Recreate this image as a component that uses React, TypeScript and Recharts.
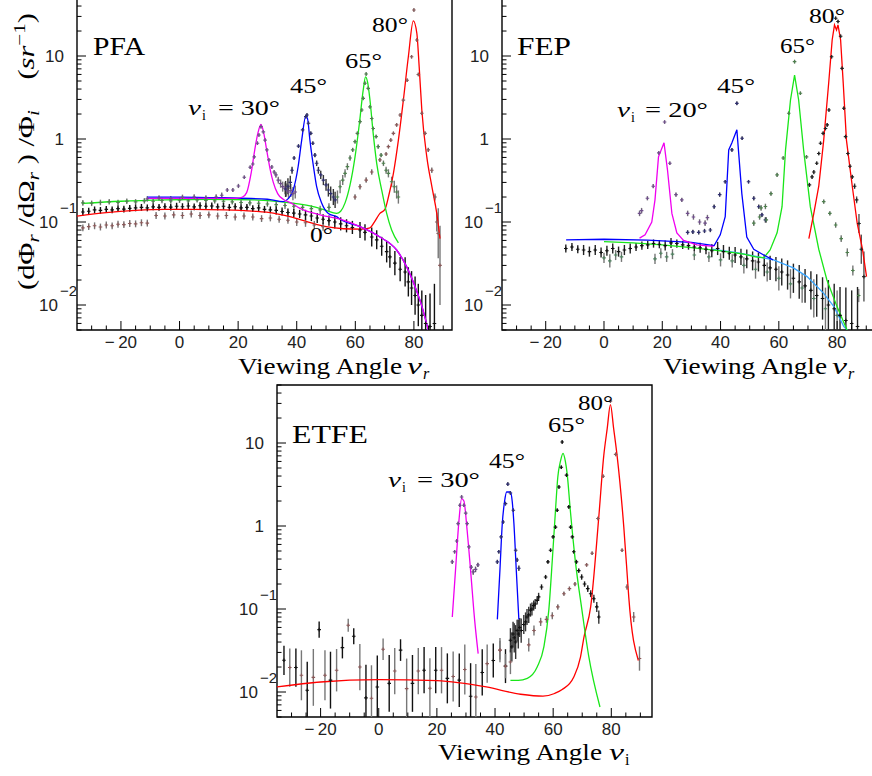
import React from 'react';
import { ComposedChart, XAxis, YAxis, Line, Scatter, ErrorBar, ReferenceArea } from 'recharts';

const SANS = "'Liberation Sans', Arial, Helvetica, sans-serif";
const SERIF = "'Liberation Serif', 'Times New Roman', Times, serif";

const X_TICKS = [-30, -25, -20, -15, -10, -5, 0, 5, 10, 15, 20, 25, 30, 35, 40, 45, 50, 55, 60, 65, 70, 75, 80, 85, 90];
const X_LABELS = [-20, 0, 20, 40, 60, 80];
const Y_TICKS = [0.005, 0.006, 0.007, 0.008, 0.009, 0.01, 0.02, 0.03, 0.04, 0.05, 0.06, 0.07, 0.08, 0.09, 0.1, 0.2, 0.3, 0.4, 0.5, 0.6, 0.7, 0.8, 0.9, 1, 2, 3, 4, 5, 6, 7, 8, 9, 10, 20, 30, 40, 50];
const Y_LABELS = [0.01, 0.1, 1, 10];
const Y_MIN = 0.005;
const Y_MAX = 50;

// ---------------- PFA ----------------
const P1_FIT80 = [[-35,0.118],[-25,0.13],[-15,0.138],[-5,0.142],[5,0.142],[15,0.14],[25,0.135],[32,0.128],[38,0.115],[44,0.1],[50,0.088],[56,0.083],[62,0.082],[65,0.085],[66.5,0.1],[68.4,0.127],[70.1,0.142],[71.3,0.2],[73,0.386],[74.7,0.97],[76.4,2.94],[78.1,9.8],[79.8,26.5],[81,18.8],[81.8,7.4],[82.7,2.24],[84.4,0.61],[86.1,0.27],[87.8,0.127],[88.9,0.063]];
const P1_FIT65 = [[-33,0.168],[-20,0.178],[-5,0.185],[10,0.188],[25,0.185],[35,0.175],[45,0.155],[50,0.138],[53.6,0.127],[55,0.135],[56.5,0.17],[58.2,0.28],[59.9,0.61],[61.4,1.55],[62.7,3.9],[63.5,5.6],[64.2,4.8],[65,2.95],[66.1,1.17],[67.3,0.51],[69,0.243],[70.7,0.127],[72.4,0.08],[74.7,0.056]];
const P1_FIT45 = [[-11,0.2],[0,0.2],[15,0.196],[30,0.188],[35.4,0.176],[37,0.19],[38.8,0.243],[40.5,0.47],[41.7,0.97],[43.1,1.89],[43.7,1.75],[44.5,0.97],[45.7,0.47],[46.8,0.266],[48.5,0.17],[50.8,0.127],[53.6,0.116],[54.8,0.108],[61.6,0.088],[68.4,0.066],[74.1,0.046],[77.5,0.029],[80.4,0.0166],[82.7,0.0097],[84.9,0.005]];
const P1_FIT30 = [[-11,0.193],[5,0.193],[19.5,0.193],[21.5,0.2],[22.9,0.226],[24.5,0.4],[25.7,0.75],[26.8,1.2],[27.8,1.5],[28.7,1.2],[29.7,0.75],[31,0.42],[32,0.3],[33.5,0.22],[35.4,0.188],[38,0.17],[41.1,0.146],[48,0.122],[54.8,0.108],[61.6,0.088],[68.4,0.066],[74.1,0.046],[77.5,0.029],[80.4,0.0166],[82.7,0.0097],[84.9,0.005]];

const P1_D0 = [[-33,0.132,1.12],[-31,0.135,1.1],[-29,0.14,1.1],[-27,0.138,1.1],[-25,0.142,1.1],[-23,0.14,1.1],[-21,0.145,1.1],[-19,0.143,1.1],[-17,0.146,1.1],[-15,0.148,1.1],[-13,0.15,1.1],[-11,0.148,1.1],[-9,0.152,1.1],[-7,0.15,1.1],[-5,0.153,1.1],[-3,0.151,1.1],[-1,0.155,1.1],[1,0.153,1.1],[3,0.156,1.1],[5,0.152,1.1],[7,0.157,1.1],[9,0.155,1.1],[11,0.156,1.1],[13,0.152,1.1],[15,0.155,1.1],[17,0.15,1.1],[19,0.153,1.1],[21,0.148,1.1],[23,0.15,1.1],[25,0.145,1.1],[27,0.148,1.1],[29,0.142,1.1],[31,0.14,1.1],[33,0.138,1.12],[35,0.134,1.12],[37,0.13,1.12],[39,0.128,1.12],[41,0.125,1.12],[43,0.122,1.15],[45,0.118,1.15],[47,0.112,1.15],[49,0.108,1.15],[51,0.104,1.15],[53,0.1,1.2],[55,0.095,1.2],[57,0.09,1.2],[59,0.086,1.2],[61.6,0.08,1.25],[63.3,0.075,1.25],[65.6,0.066,1.3],[67.3,0.061,1.3],[69,0.051,1.3],[70.7,0.044,1.35],[71.8,0.038,1.35],[73.5,0.032,1.4],[75.3,0.027,1.4],[77,0.025,1.5],[78.1,0.019,1.5],[79.2,0.016,1.6],[80.4,0.013,1.7],[81.5,0.01,1.8],[82.7,0.0075,2],[84,0.006,2.2],[85.5,0.0055,2.5],[87,0.006,3]];
const P1_D30 = [[-11,0.19,1.08],[-7,0.195,1.08],[-3,0.19,1.08],[1,0.198,1.08],[5,0.2,1.08],[9,0.195,1.08],[12.5,0.2,1.08],[14.4,0.21,1.08],[16.3,0.243,1.06],[18.2,0.243,1.06],[20.1,0.272,1.06],[22.1,0.346,1.05],[24.1,0.456,1.05],[25,0.5,1.05],[25.5,0.61,1.05],[26.6,0.89,1.05],[27.1,1.12,1.05],[27.8,1.41,1.05],[28.6,1.22,1.05],[29.2,0.97,1.05],[29.8,0.74,1.05],[30.5,0.56,1.05],[31.5,0.46,1.06],[32.3,0.4,1.06],[32.9,0.37,1.08],[33.7,0.32,1.1],[34.5,0.29,1.12],[35.2,0.267,1.15],[36,0.255,1.18],[36.5,0.243,1.2],[37.2,0.23,1.2],[38,0.24,1.2],[38.7,0.22,1.2],[39.5,0.23,1.2]];
const P1_D45 = [[36.2,0.25,1.25],[37,0.27,1.25],[37.8,0.3,1.2],[38.4,0.42,1.1],[39.1,0.59,1.05],[40.6,0.82,1.05],[42,1.29,1.05],[43.1,1.86,1.05],[43.5,1.95,1.05],[44,1.55,1.05],[44.8,1.17,1.05],[45.5,0.89,1.05],[46.2,0.64,1.06],[46.8,0.51,1.08],[47.4,0.42,1.1],[48.2,0.37,1.12],[49.1,0.32,1.15],[50,0.28,1.18],[50.8,0.243,1.2],[51.6,0.22,1.22],[52.5,0.2,1.25],[53.1,0.185,1.25]];
const P1_D65 = [[-33,0.17,1.08],[-30,0.168,1.08],[-27,0.172,1.08],[-24,0.175,1.08],[-21,0.172,1.08],[-18,0.178,1.08],[-15,0.175,1.08],[-12,0.18,1.08],[-9,0.178,1.08],[-6,0.182,1.08],[-3,0.18,1.08],[0,0.183,1.08],[3,0.18,1.08],[6,0.185,1.08],[9,0.182,1.08],[12,0.18,1.08],[15,0.178,1.08],[18,0.175,1.08],[21,0.172,1.08],[24,0.17,1.08],[27,0.168,1.08],[30,0.165,1.08],[33,0.162,1.08],[36,0.158,1.1],[39,0.155,1.1],[42,0.15,1.1],[45,0.145,1.1],[48,0.14,1.12],[51,0.15,1.12],[53.9,0.2,1.2],[54.8,0.266,1.2],[55.7,0.32,1.15],[56.5,0.386,1.12],[57.3,0.465,1.1],[58.2,0.59,1.08],[59.1,0.74,1.06],[59.9,0.93,1.05],[60.7,1.17,1.05],[61.6,1.62,1.05],[62.2,2.24,1.05],[62.7,3.09,1.05],[63.3,4.69,1.05],[63.7,6.07,1.05],[64.4,4.08,1.05],[65,2.44,1.05],[65.6,1.77,1.05],[66.1,1.34,1.05],[67.1,1.07,1.05],[67.8,0.81,1.06],[68.8,0.64,1.06],[69.6,0.51,1.08],[70.5,0.42,1.1],[71.3,0.386,1.12],[72.4,0.306,1.15],[73.3,0.266,1.18],[74.1,0.23,1.2],[74.7,0.2,1.2]];
const P1_D80 = [[-33,0.085,1.1],[-31,0.088,1.1],[-29,0.09,1.1],[-27,0.087,1.1],[-25,0.092,1.1],[-23,0.09,1.1],[-21,0.094,1.1],[-19,0.093,1.1],[-17,0.096,1.1],[-15,0.095,1.1],[-13,0.098,1.1],[-11,0.097,1.1],[-8,0.12,1.1],[-5,0.118,1.1],[-2,0.122,1.1],[1,0.12,1.1],[4,0.125,1.1],[7,0.12,1.1],[10,0.122,1.1],[13,0.118,1.1],[16,0.12,1.1],[19,0.115,1.1],[22,0.118,1.1],[25,0.115,1.1],[28,0.11,1.1],[31,0.112,1.1],[34,0.108,1.1],[37,0.105,1.1],[40,0.1,1.12],[43,0.098,1.12],[46,0.092,1.12],[49,0.088,1.12],[59.9,0.2,1.08],[61.6,0.266,1.08],[63.7,0.32,1.08],[65.6,0.4,1.08],[68.4,0.56,1.06],[70.5,0.66,1.05],[71.3,0.81,1.05],[72.1,0.97,1.05],[73,1.17,1.05],[74.1,1.48,1.05],[75.3,1.95,1.05],[76.4,2.94,1.05],[77.7,5.1,1.05],[79.2,9.8,1.05],[80,35.8,1.05],[81,15.6,1.05],[81.5,6,1.05],[82.7,2.04,1.05],[83.8,1.17,1.05],[84.9,0.74,1.06],[86.1,0.42,1.08],[87.2,0.2,1.1],[87.8,0.1,1.3],[88.3,0.073,2],[88.9,0.03,3]];

// ---------------- FEP ----------------
const P2_FIT_BLUE = [[-13,0.061],[0,0.062],[15,0.0605],[30,0.057],[37.8,0.052],[39.9,0.07],[41.6,0.116],[42.8,0.74],[43.9,0.9],[45.6,1.29],[47.3,0.22],[49,0.066],[51.4,0.047],[54.8,0.04],[58,0.035]];
const P2_FIT_CYAN = [[37,0.047],[45,0.043],[50,0.04],[58.2,0.035],[65,0.028],[69.7,0.022],[75.4,0.0138],[78.9,0.0096],[82.3,0.0055],[83.5,0.005]];
const P2_FIT_MAGENTA = [[12.2,0.064],[14.1,0.07],[16.4,0.1],[17.5,0.185],[18.7,0.61],[20.6,0.9],[21.8,0.42],[23.3,0.127],[25,0.074],[27.3,0.06],[31.9,0.053],[37.6,0.051]];
const P2_FIT_GREEN = [[0,0.058],[10,0.056],[20,0.053],[30,0.049],[40,0.045],[48,0.041],[52,0.038],[54.8,0.037],[57,0.046],[59.4,0.074],[61.1,0.153],[62.3,0.74],[64,2.95],[65.4,5.9],[66.8,2.95],[68.5,0.74],[70.8,0.153],[73.7,0.047],[76.5,0.02],[79.9,0.0097],[83.4,0.005]];
const P2_FIT_RED = [[70.3,0.063],[72,0.127],[73.7,0.27],[75.4,0.97],[77.1,4.7],[78.3,15.6],[79.1,23.7],[79.8,20.6],[80.3,23.7],[81.2,15.6],[82.1,4.7],[83.2,0.97],[85.2,0.27],[86.9,0.096],[88.7,0.047],[90.1,0.022]];

const P2_D0 = [[-13.1,0.048,1.12],[-11,0.05,1.12],[-9,0.047,1.12],[-7,0.046,1.15],[-5,0.044,1.15],[-3,0.046,1.15],[-1,0.043,1.15],[1,0.045,1.15],[3,0.048,1.15],[5,0.044,1.15],[7,0.046,1.15],[9,0.048,1.15],[11,0.05,1.12],[13,0.052,1.12],[15,0.053,1.12],[17,0.055,1.12],[19,0.054,1.12],[21,0.052,1.15],[23,0.056,1.15],[25,0.055,1.12],[27,0.053,1.12],[29,0.052,1.12],[31,0.05,1.12],[33,0.049,1.15],[35,0.047,1.15],[37,0.045,1.2],[39,0.048,1.2],[41,0.044,1.2],[43,0.042,1.2],[45,0.04,1.25],[47,0.038,1.25],[49,0.036,1.3],[51,0.034,1.3],[53,0.033,1.3],[55,0.03,1.35],[57,0.028,1.4],[59,0.027,1.4],[61,0.025,1.45],[63,0.023,1.5],[65,0.021,1.5],[67,0.019,1.6],[69,0.017,1.6],[71,0.015,1.7],[73,0.013,1.8],[75,0.012,1.8],[77,0.01,2],[79,0.009,2],[81,0.0075,2.2],[83,0.0065,2.5],[85,0.006,2.5],[87,0.0055,3]];
const P2_DLOW = [[0,0.037,1.15],[2,0.034,1.2],[4,0.04,1.15],[6,0.038,1.15],[17.5,0.036,1.15],[19.5,0.042,1.15],[21.5,0.038,1.15],[23.5,0.041,1.15],[31,0.04,1.15],[36,0.038,1.15],[40,0.035,1.2],[44,0.034,1.2],[48,0.03,1.25],[52,0.027,1.3],[56,0.025,1.3],[60,0.021,1.4],[64,0.018,1.5],[68,0.016,1.5],[72,0.012,1.7],[76,0.009,1.8],[80,0.0075,2]];
const P2_D20 = [[12.2,0.127,1.08],[12.9,0.137,1.08],[14.9,0.193,1.06],[16.9,0.27,1.06],[18.8,0.68,1.05],[20.8,1.6,1.05],[22.6,0.51,1.05],[24.7,0.214,1.06],[26.7,0.185,1.06],[28.7,0.127,1.08],[30.7,0.115,1.08],[32.8,0.1,1.08],[34.7,0.097,1.08],[35.5,0.113,1.08]];
const P2_D45 = [[28.7,0.075,1.06],[30.5,0.076,1.06],[32.5,0.075,1.06],[34.5,0.078,1.06],[36.5,0.08,1.06],[37.8,0.153,1.06],[39.7,0.214,1.06],[41.6,0.306,1.05],[43.9,0.74,1.05],[45.6,2.69,1.05],[47.4,1.02,1.05],[49.6,0.306,1.05],[51.4,0.193,1.06],[53.1,0.153,1.06],[54.2,0.122,1.06],[55.4,0.106,1.08]];
const P2_D65 = [[51.4,0.097,1.08],[53.4,0.115,1.08],[53.9,0.148,1.08],[55.4,0.154,1.08],[55.7,0.106,1.08],[57.3,0.22,1.06],[59.4,0.37,1.06],[61.5,0.59,1.05],[63.4,2.04,1.05],[65.4,8.55,1.05],[67.4,3.56,1.05],[69.5,0.61,1.05],[75.4,0.176,1.06],[77.5,0.127,1.06],[79.5,0.092,1.08],[81.4,0.063,1.1],[83.5,0.043,1.12],[85.4,0.026,1.15],[87.4,0.013,1.2]];
const P2_D80 = [[70.5,0.28,1.06],[71.4,0.35,1.06],[72,0.4,1.06],[73,0.51,1.05],[73.7,0.67,1.05],[74.3,0.89,1.05],[75.2,1.17,1.05],[76,1.34,1.05],[76.6,1.48,1.05],[77.2,2.24,1.05],[78.1,9.8,1.05],[79.5,28.5,1.05],[80.3,26,1.05],[81.2,17.3,1.05],[81.7,7.1,1.05],[82.3,2.35,1.05],[82.9,1.07,1.05],[83.7,0.67,1.05],[84.4,0.47,1.06],[85.2,0.35,1.06],[86,0.27,1.08],[86.7,0.185,1.1],[87.5,0.096,1.3],[88.3,0.047,1.5],[89.2,0.022,2]];

// ---------------- ETFE ----------------
const P3_FIT_RED = [[-35,0.0115],[-20,0.0132],[0,0.0141],[20,0.0137],[37,0.0115],[48.8,0.0094],[56.5,0.0089],[60.5,0.0096],[63.1,0.0107],[67.1,0.0152],[69.4,0.0264],[70.6,0.046],[72.9,0.106],[75.7,1.29],[77.4,7],[78.6,15],[79.7,29],[80.8,15],[82,7],[84.3,0.97],[85.5,0.25],[86,0.14],[89.3,0.024]];
const P3_FIT_GREEN = [[45.3,0.0138],[48,0.0138],[51.1,0.0146],[54.5,0.02],[56.8,0.035],[58.5,0.097],[59.7,0.386],[60.8,1.55],[61.6,3.9],[62.5,6],[63.4,7.5],[64.2,6],[64.8,4.3],[65.9,1.55],[67.6,0.386],[69.9,0.097],[72.2,0.0275],[76.1,0.0066]];
const P3_FIT_BLUE = [[40.8,0.075],[41.7,0.3],[42.5,1.07],[43.3,2.0],[44,2.57],[45.3,2.57],[45.9,2.0],[46.5,1.07],[47.3,0.3],[48.2,0.075]];
const P3_FIT_MAGENTA = [[25.3,0.08],[26.4,0.29],[27.6,1.17],[28.5,2.14],[29.3,2.0],[30.4,0.89],[31.6,0.29],[33,0.073],[34.2,0.029]];

const P3_D0 = [[-32.6,0.0241,1.5],[-30.6,0.0197,1.7],[-28.5,0.0197,1.7],[-26.6,0.0159,2],[-24.6,0.0105,2.2],[-22.5,0.015,2.2],[-20.5,0.0565,1.25],[-18.5,0.0159,2],[-16.6,0.0139,2.2],[-14.5,0.0183,1.8],[-12.5,0.0343,1.35],[-10.5,0.0637,1.2],[-8.6,0.0469,1.25],[-6.5,0.02,1.9],[-4.4,0.0085,2.5],[-2.5,0.0084,2.5],[-0.5,0.0115,2.4],[1.5,0.0327,1.35],[3.6,0.0127,2.2],[5.5,0.0179,1.9],[7.5,0.032,1.35],[9.6,0.011,2.3],[11.6,0.0127,2.2],[13.6,0.0179,1.9],[15.6,0.0183,1.9],[17.6,0.0111,2.3],[19.6,0.0183,1.9],[21.6,0.0183,1.9],[23.6,0.0146,2],[25.6,0.0154,2],[27.7,0.0139,2.1],[29.6,0.0187,2],[31.6,0.0089,2.5],[33.4,0.0087,2.5],[35.6,0.0172,1.9],[37.3,0.022,1.7],[39.4,0.024,1.6],[41.7,0.032,1.4],[43.6,0.0205,1.6]];
const P3_D30 = [[25.3,0.37,1.06],[26.1,0.49,1.05],[26.8,0.66,1.05],[27.3,1.07,1.05],[27.9,1.78,1.05],[28.5,2.24,1.05],[29.3,1.78,1.05],[29.9,1.43,1.05],[30.4,1.07,1.05],[31,0.56,1.06],[31.8,0.32,1.06],[32.5,0.28,1.08],[33.3,0.3,1.08],[34.1,0.34,1.06]];
const P3_D45 = [[40.8,0.37,1.06],[41.3,0.49,1.05],[42.1,0.74,1.05],[42.8,1.12,1.05],[43.6,1.86,1.05],[44.4,3.2,1.05],[45.3,2.5,1.05],[46.3,1.55,1.05],[47.1,0.51,1.05],[47.6,0.39,1.06],[48.2,0.31,1.08]];
const P3_D65 = [[45.3,0.042,1.4],[45.8,0.035,1.5],[46.2,0.05,1.4],[46.6,0.045,1.5],[47.1,0.04,1.6],[47.6,0.055,1.35],[48,0.05,1.5],[48.5,0.06,1.3],[49,0.055,1.4],[49.9,0.065,1.3],[50.5,0.07,1.3],[51,0.08,1.25],[51.6,0.085,1.25],[52.2,0.097,1.2],[52.7,0.1,1.2],[53.3,0.11,1.15],[53.8,0.115,1.15],[54.5,0.127,1.12],[55,0.14,1.12],[56,0.184,1.08],[57.4,0.243,1.06],[58.2,0.37,1.05],[59.1,0.51,1.05],[60,0.74,1.05],[60.8,0.97,1.05],[61.4,1.55,1.05],[62,2.95,1.05],[62.8,5.1,1.05],[63.1,10.3,1.05],[64.6,4.1,1.05],[65.4,1.7,1.05],[66,0.97,1.05],[66.6,0.74,1.05],[67.1,0.49,1.05],[68,0.37,1.06],[68.8,0.29,1.06],[69.8,0.243,1.08],[70.8,0.2,1.08],[71.9,0.176,1.1],[72.9,0.153,1.1],[74,0.133,1.12],[75,0.106,1.15],[75.7,0.08,1.2]];
const P3_D80 = [[41.7,0.032,1.3],[43.6,0.0205,1.4],[45.3,0.023,1.4],[51.6,0.037,1.2],[53.4,0.055,1.15],[55.7,0.07,1.12],[57.7,0.075,1.1],[59.7,0.083,1.1],[61.6,0.106,1.08],[63.7,0.153,1.06],[65.6,0.176,1.06],[67.5,0.2,1.06],[71.5,0.34,1.05],[73.4,0.47,1.05],[75.4,1.23,1.05],[77.2,3.97,1.05],[79.7,32,1.05],[81.5,7.3,1.05],[83.7,0.51,1.05],[85.4,0.184,1.08],[87.7,0.08,1.15],[89.7,0.0253,1.4]];

const RED = '#ff0000';
const GREEN = '#19e619';
const BLUE = '#0000ff';
const MAGENTA = '#f000f0';
const CYAN = '#3aa6ff';

const toLine = (a: number[][]) => a.map(([x, y]) => ({ x, y }));
// error bars are kept inside the frame (the original plot clips them)
const toPts = (a: number[][]) =>
  a.filter(([, y]) => y > Y_MIN && y < Y_MAX).map(([x, y, f]) => {
    const lo = Math.max(y / f, Y_MIN * 1.001);
    const hi = Math.min(y * f, Y_MAX);
    return { x, y, err: [y - lo, hi - y] };
  });

function XTick(p: any) {
  const { x, y, payload } = p;
  const v = payload.value;
  const major = X_LABELS.indexOf(v) >= 0;
  return (
    <g>
      <line x1={x} x2={x} y1={y} y2={y - (major ? 9 : 4.5)} stroke="#000" strokeWidth={1} />
      {major ? (
        <text x={x} y={y + 18} textAnchor="middle" fontFamily={SANS} fontSize={17} fill="#222">
          {v < 0 ? '\u2212\u2009' + Math.abs(v) : String(v)}
        </text>
      ) : null}
    </g>
  );
}

function YTick(p: any) {
  const { x, y, payload } = p;
  const v = payload.value;
  const major = Y_LABELS.some((m) => Math.abs(m - v) < 1e-9);
  const tick = <line x1={x} x2={x + (major ? 9 : 4.5)} y1={y} y2={y} stroke="#000" strokeWidth={1} />;
  if (!major) return <g>{tick}</g>;
  const e = Math.round(Math.log10(v));
  return (
    <g>
      {tick}
      {e >= 0 ? (
        <text x={x - 13} y={y + 6} textAnchor="end" fontFamily={SANS} fontSize={17} fill="#222">{String(Math.pow(10, e))}</text>
      ) : (
        <g>
          <text x={x - 19} y={y + 5.5} textAnchor="end" fontFamily={SANS} fontSize={17} fill="#222">10</text>
          <text x={x} y={y - 9.5} textAnchor="end" fontFamily={SANS} fontSize={15} fill="#222">{'\u2212' + Math.abs(e)}</text>
        </g>
      )}
    </g>
  );
}

const cross = (c: string) => (p: any) => (
  <path d={`M${p.cx - 1.8},${p.cy}h3.6M${p.cx},${p.cy - 1.8}v3.6`} stroke={c} strokeWidth={1.1} fill="none" />
);

type Fit = { d: number[][]; c: string };
type PSet = { d: number[][]; m: string; e: string };

function Panel(props: { left: number; top: number; width: number; yw: number; mr: number; xMax: number; fits: Fit[]; sets: PSet[]; curve: any }) {
  const { left, top, width, yw, mr, xMax, fits, sets, curve } = props;
  return (
    <div style={{ position: 'absolute', left, top }}>
      <ComposedChart width={width} height={382} margin={{ top: 10, right: mr, bottom: 0, left: 0 }}>
        <XAxis type="number" dataKey="x" domain={[-35, xMax]} allowDataOverflow ticks={X_TICKS} interval={0}
          tick={XTick} tickSize={0} tickMargin={0} tickLine={false} axisLine={false} height={40} />
        <YAxis type="number" dataKey="y" scale="log" domain={[Y_MIN, Y_MAX]} allowDataOverflow ticks={Y_TICKS} interval={0}
          tick={YTick} tickSize={0} tickMargin={0} tickLine={false} axisLine={false} width={yw} />
        {sets.map((s, i) => (
          <Scatter key={'s' + i} data={toPts(s.d)} fill={s.m} isAnimationActive={false} shape={cross(s.m)}>
            <ErrorBar dataKey="err" direction="y" width={0} stroke={s.e} strokeWidth={1.4} isAnimationActive={false} />
          </Scatter>
        ))}
        {fits.map((f, i) => (
          <Line key={'l' + i} data={toLine(f.d)} dataKey="y" type={curve} stroke={f.c} strokeWidth={1.3} dot={false}
            activeDot={false} isAnimationActive={false} />
        ))}
        <ReferenceArea x1={-35} x2={xMax} y1={Y_MIN} y2={Y_MAX} fill="none" stroke="#000" strokeWidth={1.4} ifOverflow="visible" />
      </ComposedChart>
    </div>
  );
}

function T(props: { x: number; y: number; size?: number; len?: number; italic?: boolean; children: any }) {
  const { x, y, size = 22, len, italic, children } = props;
  return (
    <text x={x} y={y} fontFamily={SERIF} fontSize={size} fontStyle={italic ? 'italic' : 'normal'} fill="#000"
      textLength={len} lengthAdjust={len ? 'spacingAndGlyphs' : undefined}>
      {children}
    </text>
  );
}

export default function App() {
  const P3_D0_A = P3_D0.filter((_, i) => i % 2 === 0);
  const P3_D0_B = P3_D0.filter((_, i) => i % 2 === 1);
  return (
    <div style={{ position: 'absolute', left: 0, top: 0, width: 872, height: 776, overflow: 'hidden', background: '#fff' }}>
      <Panel left={0} top={-12} width={460} yw={77} mr={8} xMax={93} curve="monotone"
        sets={[
          { d: P1_D80, m: '#8a5a5a', e: '#777' },
          { d: P1_D65, m: '#4f7f4f', e: '#777' },
          { d: P1_D0, m: '#111', e: '#111' },
          { d: P1_D30, m: '#6f4f8a', e: '#777' },
          { d: P1_D45, m: '#2f2f6f', e: '#333' },
        ]}
        fits={[
          { d: P1_FIT80, c: RED },
          { d: P1_FIT65, c: GREEN },
          { d: P1_FIT45, c: BLUE },
          { d: P1_FIT30, c: MAGENTA },
        ]} />
      <Panel left={440} top={-12} width={435} yw={62} mr={0} xMax={93} curve="linear"
        sets={[
          { d: P2_DLOW, m: '#4f7f5f', e: '#777' },
          { d: P2_D0, m: '#111', e: '#222' },
          { d: P2_D20, m: '#6f4f8a', e: '#777' },
          { d: P2_D45, m: '#2f2f6f', e: '#444' },
          { d: P2_D65, m: '#4f7f4f', e: '#777' },
          { d: P2_D80, m: '#222', e: '#555' },
        ]}
        fits={[
          { d: P2_FIT_CYAN, c: CYAN },
          { d: P2_FIT_GREEN, c: GREEN },
          { d: P2_FIT_BLUE, c: BLUE },
          { d: P2_FIT_MAGENTA, c: MAGENTA },
          { d: P2_FIT_RED, c: RED },
        ]} />
      <Panel left={200} top={375} width={460} yw={77} mr={8} xMax={94} curve="monotone"
        sets={[
          { d: P3_D0_B, m: '#8a5a5a', e: '#777' },
          { d: P3_D0_A, m: '#111', e: '#111' },
          { d: P3_D80, m: '#8a5a5a', e: '#777' },
          { d: P3_D65, m: '#111', e: '#333' },
          { d: P3_D30, m: '#6f4f8a', e: '#555' },
          { d: P3_D45, m: '#2f2f6f', e: '#444' },
        ]}
        fits={[
          { d: P3_FIT_RED, c: RED },
          { d: P3_FIT_GREEN, c: GREEN },
          { d: P3_FIT_BLUE, c: BLUE },
          { d: P3_FIT_MAGENTA, c: MAGENTA },
        ]} />
      <svg width={872} height={776} style={{ position: 'absolute', left: 0, top: 0, pointerEvents: 'none' }}>
        {/* y axis title */}
        <text transform="translate(34,290) rotate(-90)" fontFamily={SERIF} fontSize={23} fill="#000" textLength={277} lengthAdjust="spacingAndGlyphs">
          {'(d\u03A6'}<tspan dy={5} fontSize={16} fontStyle="italic">r</tspan><tspan dy={-5}>{'\u00a0/d\u03A9'}</tspan><tspan dy={5} fontSize={16} fontStyle="italic">r</tspan><tspan dy={-5}>{'\u00a0)\u00a0/\u03A6'}</tspan><tspan dy={5} fontSize={16} fontStyle="italic">i</tspan><tspan dy={-5}>{'\u00a0\u00a0\u00a0\u00a0('}</tspan><tspan fontStyle="italic">sr</tspan><tspan dy={-9} fontSize={16}>{'\u22121'}</tspan><tspan dy={9}>)</tspan>
        </text>
        {/* panel names */}
        <T x={93} y={55} size={25} len={52}>PFA</T>
        <T x={517} y={55} size={25} len={54}>FEP</T>
        <T x={292} y={443} size={25} len={76}>ETFE</T>
        {/* PFA annotations */}
        <T x={188} y={115} italic len={13}>{'\u03BD'}</T>
        <T x={202} y={120} size={14}>i</T>
        <T x={218} y={115} len={62}>{'= 30\u00B0'}</T>
        <T x={290} y={93} len={37}>{'45\u00B0'}</T>
        <T x={345} y={68} len={37}>{'65\u00B0'}</T>
        <T x={372} y={32} len={36}>{'80\u00B0'}</T>
        <T x={310} y={242} len={23}>{'0\u00B0'}</T>
        {/* FEP annotations */}
        <T x={617} y={117} italic len={13}>{'\u03BD'}</T>
        <T x={631} y={122} size={14}>i</T>
        <T x={645} y={117} len={63}>{'= 20\u00B0'}</T>
        <T x={717} y={93} len={38}>{'45\u00B0'}</T>
        <T x={780} y={53} len={35}>{'65\u00B0'}</T>
        <T x={809} y={23} len={36}>{'80\u00B0'}</T>
        {/* ETFE annotations */}
        <T x={388} y={487} italic len={13}>{'\u03BD'}</T>
        <T x={402} y={492} size={14}>i</T>
        <T x={417} y={487} len={63}>{'= 30\u00B0'}</T>
        <T x={489} y={468} len={36}>{'45\u00B0'}</T>
        <T x={548} y={432} len={37}>{'65\u00B0'}</T>
        <T x={578} y={410} len={35}>{'80\u00B0'}</T>
        {/* axis titles */}
        <T x={238} y={374} size={23} len={164}>{'Viewing Angle'}</T>
        <T x={407} y={374} size={23} italic len={15}>{'\u03BD'}</T>
        <T x={423} y={379} size={16} italic>r</T>
        <T x={663} y={374} size={23} len={164}>{'Viewing Angle'}</T>
        <T x={832} y={374} size={23} italic len={15}>{'\u03BD'}</T>
        <T x={848} y={379} size={16} italic>r</T>
        <T x={438} y={760} size={23} len={164}>{'Viewing Angle'}</T>
        <T x={609} y={760} size={23} italic len={15}>{'\u03BD'}</T>
        <T x={625} y={765} size={16}>i</T>
      </svg>
    </div>
  );
}
